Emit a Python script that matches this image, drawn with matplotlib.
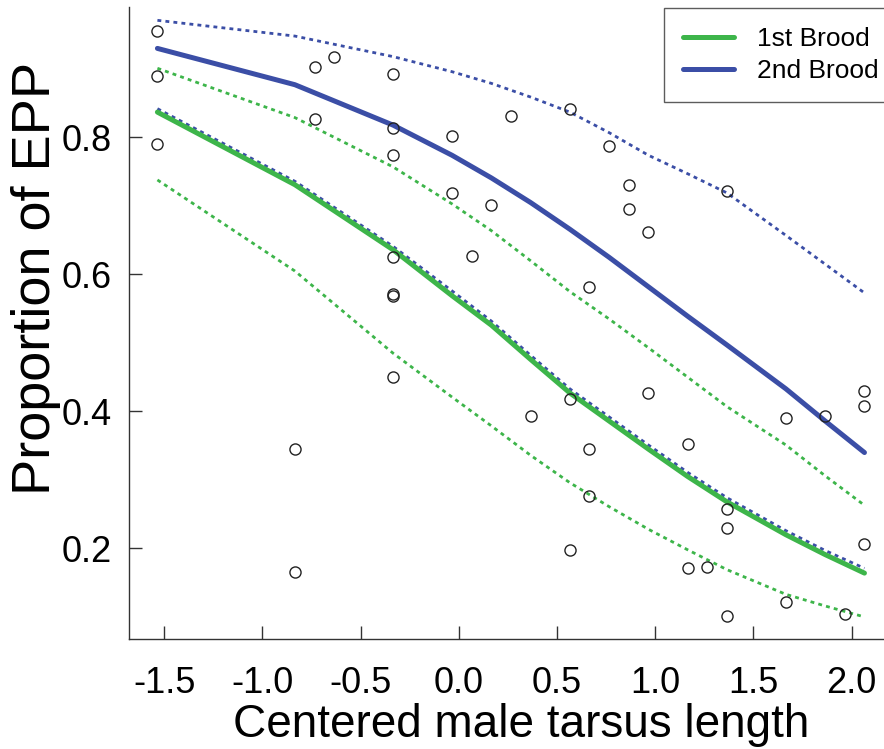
import matplotlib
matplotlib.use("Agg")
import matplotlib.pyplot as plt

plt.rcParams['font.family'] = ['Liberation Sans', 'DejaVu Sans']
plt.rcParams['axes.unicode_minus'] = False

# observed proportions (centered tarsus, proportion EPP)
obs_x = [-1.535, -1.535, -1.535, -0.835, -0.835, -0.735, -0.735, -0.635,
         -0.335, -0.335, -0.335, -0.335, -0.335, -0.335, -0.335,
         -0.035, -0.035, 0.065, 0.165, 0.265, 0.365,
         0.565, 0.565, 0.565, 0.665, 0.665, 0.665, 0.765, 0.865, 0.865,
         0.965, 0.965, 1.165, 1.165, 1.265, 1.365, 1.365, 1.365, 1.365,
         1.665, 1.665, 1.865, 1.965, 2.065, 2.065, 2.065]
obs_y = [0.955, 0.890, 0.790, 0.345, 0.166, 0.903, 0.827, 0.917,
         0.893, 0.814, 0.774, 0.626, 0.571, 0.568, 0.450,
         0.802, 0.719, 0.627, 0.702, 0.832, 0.393,
         0.842, 0.418, 0.198, 0.581, 0.345, 0.276, 0.788, 0.730, 0.696,
         0.662, 0.427, 0.352, 0.171, 0.173, 0.722, 0.258, 0.230, 0.102,
         0.391, 0.122, 0.394, 0.105, 0.430, 0.408, 0.207]

# fitted curves and confidence limits
fit_x = [-1.535, -0.835, -0.335, -0.035, 0.165, 0.365, 0.565, 0.765,
         0.965, 1.165, 1.365, 1.665, 1.865, 2.065]
brood1_fit = [0.837, 0.731, 0.636, 0.569, 0.526, 0.476, 0.427, 0.386,
              0.345, 0.305, 0.268, 0.220, 0.191, 0.164]
brood1_upr = [0.901, 0.829, 0.757, 0.703, 0.664, 0.620, 0.575, 0.535,
              0.493, 0.450, 0.407, 0.351, 0.306, 0.263]
brood1_lwr = [0.738, 0.605, 0.485, 0.421, 0.379, 0.336, 0.296, 0.261,
              0.228, 0.198, 0.169, 0.133, 0.116, 0.100]
brood2_fit = [0.930, 0.877, 0.818, 0.774, 0.741, 0.705, 0.666, 0.625,
              0.582, 0.539, 0.497, 0.433, 0.386, 0.340]
brood2_upr = [0.971, 0.948, 0.918, 0.896, 0.879, 0.859, 0.837, 0.807,
              0.774, 0.747, 0.719, 0.657, 0.615, 0.573]
brood2_lwr = [0.842, 0.736, 0.641, 0.576, 0.532, 0.482, 0.433, 0.392,
              0.351, 0.311, 0.274, 0.226, 0.197, 0.171]

xticks = [-1.5, -1.0, -0.5, 0.0, 0.5, 1.0, 1.5, 2.0]
yticks = [0.2, 0.4, 0.6, 0.8]

green = '#3db54a'
blue = '#3b4ea6'

fig = plt.figure(figsize=(8.84, 7.49), dpi=100)
ax = fig.add_axes([0.1463, 0.1465, 1.0 - 0.1463, 0.9907 - 0.1465])

dots = (0, (1.4, 1.5))
ax.plot(fit_x, brood1_upr, color=green, lw=2.0, ls=dots)
ax.plot(fit_x, brood1_lwr, color=green, lw=2.0, ls=dots)
ax.plot(fit_x, brood2_upr, color=blue, lw=2.0, ls=dots)
ax.plot(fit_x, brood2_lwr, color=blue, lw=2.0, ls=dots)
ax.plot(fit_x, brood1_fit, color=green, lw=3.6, solid_capstyle='round',
        solid_joinstyle='round', label='1st Brood')
ax.plot(fit_x, brood2_fit, color=blue, lw=3.6, solid_capstyle='round',
        solid_joinstyle='round', label='2nd Brood')

ax.plot(obs_x, obs_y, 'o', mfc='none', mec='#222222', mew=1.0, ms=8, ls='none')

ax.set_xlim(-1.678, 2.1645)
ax.set_ylim(0.0674, 0.9905)
ax.set_xticks(xticks)
ax.set_xticklabels(['%.1f' % v for v in xticks], fontsize=26)
ax.set_yticks(yticks)
ax.set_yticklabels(['%.1f' % v for v in yticks], fontsize=26)
ax.tick_params(direction='in', length=9.5, width=1.0, color='#333333')
ax.tick_params(axis='x', pad=19)
ax.tick_params(axis='y', pad=12.5)

for s in ['top', 'right']:
    ax.spines[s].set_visible(False)
for s in ['left', 'bottom']:
    ax.spines[s].set_linewidth(1.0)
    ax.spines[s].set_color('#333333')

ax.set_xlabel('Centered male tarsus length', fontsize=33)
ax.xaxis.set_label_coords(0.519, -0.1)
ax.set_ylabel('Proportion of EPP', fontsize=39)
ax.yaxis.set_label_coords(-0.0905, 0.5706)

leg = ax.legend(loc='upper left', bbox_to_anchor=(0.7085, 0.9984), borderaxespad=0,
                fontsize=19, frameon=True, fancybox=False, borderpad=0.72,
                handlelength=1.95, handletextpad=0.85, labelspacing=0.3)
leg.get_frame().set_edgecolor('#333333')
leg.get_frame().set_linewidth(1.0)

fig.savefig('out.png', dpi=100)
